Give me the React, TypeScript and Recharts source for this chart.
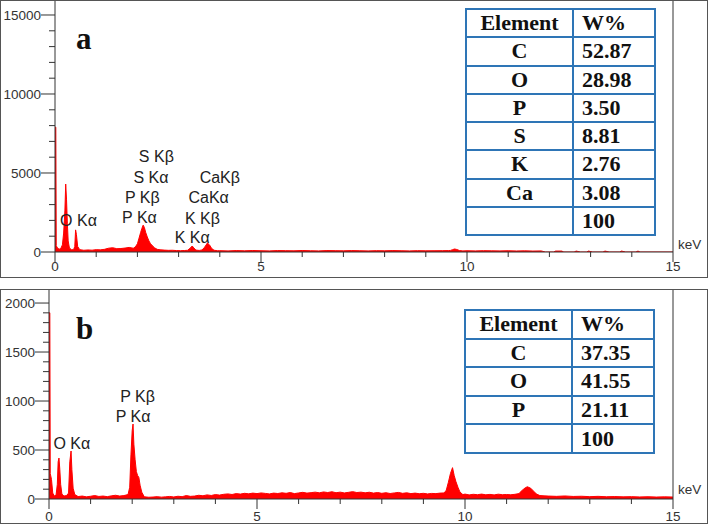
import React from 'react';
import { ComposedChart, Area, XAxis, YAxis, ReferenceLine, ReferenceDot } from 'recharts';

// energy (keV) / counts pairs
const spectrumA: [number, number][] = [
  [0, 7900], [0.02, 7900], [0.03, 400], [0.06, 250], [0.1, 180], [0.14, 220], [0.18, 450],
  [0.21, 1200], [0.24, 2600], [0.26, 4300], [0.28, 3300], [0.3, 1800], [0.32, 700], [0.35, 250],
  [0.4, 150], [0.45, 140], [0.48, 350], [0.5, 1400], [0.52, 1100], [0.55, 350], [0.6, 150],
  [0.7, 110], [0.8, 130], [0.9, 115], [1.0, 150], [1.1, 135], [1.2, 170], [1.3, 240], [1.4, 270],
  [1.5, 210], [1.6, 220], [1.7, 250], [1.8, 290], [1.9, 240], [1.95, 320], [2.0, 520], [2.04, 880],
  [2.08, 1250], [2.11, 1500], [2.14, 1700], [2.17, 1550], [2.2, 1250], [2.24, 950], [2.28, 700],
  [2.32, 520], [2.37, 380], [2.42, 260], [2.48, 170], [2.55, 140], [2.65, 120], [2.75, 105],
  [2.85, 110], [2.95, 90], [3.05, 85], [3.15, 95], [3.22, 110], [3.28, 240], [3.33, 380],
  [3.37, 260], [3.42, 120], [3.5, 100], [3.57, 130], [3.63, 300], [3.7, 570], [3.75, 450],
  [3.8, 230], [3.86, 110], [3.95, 80], [4.0, 85], [4.2, 70], [4.4, 90], [4.6, 75], [4.8, 95],
  [5.0, 80], [5.2, 70], [5.4, 90], [5.6, 85], [5.8, 75], [6.0, 95], [6.2, 80], [6.4, 70],
  [6.6, 90], [6.8, 85], [7.0, 75], [7.2, 90], [7.4, 80], [7.6, 70], [7.8, 85], [8.0, 75],
  [8.2, 90], [8.4, 80], [8.6, 70], [8.8, 85], [9.0, 75], [9.2, 80], [9.4, 85], [9.55, 90],
  [9.6, 100], [9.65, 150], [9.7, 190], [9.75, 160], [9.82, 90], [9.9, 70], [10.0, 80],
  [10.2, 70], [10.4, 85], [10.6, 75], [10.8, 70], [11.0, 80], [11.2, 65], [11.4, 75], [11.6, 60],
  [11.8, 70], [11.9, 0], [12.1, 0], [12.15, 60], [12.3, 60], [12.35, 0], [12.6, 0], [12.65, 60],
  [12.75, 0], [12.9, 0], [12.95, 60], [13.05, 0], [13.3, 0], [13.35, 60], [13.45, 0], [13.7, 0],
  [13.75, 60], [13.85, 0], [14.1, 0], [14.15, 60], [14.2, 0], [15, 0],
];

const spectrumB: [number, number][] = [
  [0, 1900], [0.02, 1900], [0.03, 260], [0.06, 200], [0.09, 60], [0.13, 30], [0.17, 40],
  [0.2, 150], [0.22, 380], [0.24, 418], [0.26, 300], [0.28, 150], [0.31, 50], [0.36, 30],
  [0.42, 35], [0.47, 60], [0.5, 380], [0.53, 490], [0.55, 300], [0.58, 110], [0.62, 45],
  [0.7, 25], [0.8, 30], [0.9, 22], [1.0, 28], [1.1, 35], [1.2, 26], [1.3, 30], [1.4, 24],
  [1.5, 32], [1.6, 38], [1.7, 30], [1.8, 35], [1.9, 45], [1.94, 120], [1.97, 450], [2.0, 700],
  [2.02, 765], [2.04, 560], [2.07, 400], [2.1, 280], [2.13, 240], [2.16, 220], [2.19, 140],
  [2.23, 70], [2.28, 30], [2.3, 22], [2.4, 18], [2.5, 20], [2.6, 24], [2.7, 19], [2.8, 22],
  [2.9, 26], [3.0, 21], [3.1, 28], [3.2, 24], [3.3, 35], [3.4, 27], [3.5, 30], [3.6, 38],
  [3.7, 33], [3.8, 42], [3.9, 36], [4.0, 45], [4.1, 40], [4.2, 48], [4.3, 52], [4.4, 46],
  [4.5, 55], [4.6, 50], [4.7, 58], [4.8, 53], [4.9, 60], [5.0, 55], [5.1, 62], [5.2, 57],
  [5.3, 52], [5.4, 60], [5.5, 56], [5.6, 63], [5.7, 58], [5.8, 66], [5.9, 55], [6.0, 62],
  [6.1, 68], [6.2, 60], [6.3, 65], [6.4, 70], [6.5, 63], [6.6, 72], [6.7, 66], [6.8, 74],
  [6.9, 64], [7.0, 70], [7.1, 62], [7.2, 68], [7.3, 75], [7.4, 66], [7.5, 70], [7.6, 63],
  [7.7, 69], [7.8, 60], [7.9, 66], [8.0, 58], [8.1, 64], [8.2, 56], [8.3, 62], [8.4, 67],
  [8.5, 58], [8.6, 63], [8.7, 55], [8.8, 60], [8.9, 54], [9.0, 58], [9.1, 52], [9.2, 57],
  [9.3, 55], [9.4, 60], [9.5, 62], [9.55, 90], [9.6, 170], [9.65, 260], [9.7, 320], [9.74, 240],
  [9.78, 180], [9.83, 120], [9.88, 70], [9.95, 45], [10.0, 50], [10.1, 42], [10.2, 48],
  [10.3, 44], [10.4, 50], [10.5, 43], [10.6, 47], [10.7, 42], [10.8, 49], [10.9, 44], [11.0, 46],
  [11.1, 43], [11.2, 48], [11.3, 55], [11.35, 80], [11.45, 115], [11.5, 125], [11.58, 110],
  [11.65, 80], [11.72, 50], [11.8, 35], [11.9, 32], [12.0, 30], [12.2, 27], [12.4, 31],
  [12.6, 26], [12.8, 28], [13.0, 24], [13.2, 27], [13.4, 23], [13.6, 25], [13.8, 22], [14.0, 24],
  [14.2, 21], [14.4, 23], [14.6, 20], [14.8, 22], [15.0, 20],
];

const keVTicks = [0, 1, 2, 3, 4, 5, 6, 7, 8, 9, 10, 11, 12, 13, 14, 15];
const keVMajor = [0, 5, 10, 15];

const countTicksA = [0, 1000, 2000, 3000, 4000, 5000, 6000, 7000, 8000, 9000, 10000, 11000, 12000, 13000, 14000, 15000];
const countMajorA = [0, 5000, 10000, 15000];
const countTicksB = [0, 100, 200, 300, 400, 500, 600, 700, 800, 900, 1000, 1100, 1200, 1300, 1400, 1500, 1600, 1700, 1800, 1900, 2000];
const countMajorB = [0, 500, 1000, 1500, 2000];

// peak annotations, placed in keV / counts
const peakLabelsA = [
  { text: 'O K\u03b1', keV: 0.57, counts: 2025 },
  { text: 'P K\u03b1', keV: 2.05, counts: 2215 },
  { text: 'P K\u03b2', keV: 2.12, counts: 3481 },
  { text: 'S K\u03b1', keV: 2.33, counts: 4747 },
  { text: 'S K\u03b2', keV: 2.46, counts: 6076 },
  { text: 'CaK\u03b2', keV: 4.0, counts: 4747 },
  { text: 'CaK\u03b1', keV: 3.73, counts: 3481 },
  { text: 'K K\u03b2', keV: 3.58, counts: 2152 },
  { text: 'K K\u03b1', keV: 3.33, counts: 949 },
];
const peakLabelsB = [
  { text: 'O K\u03b1', keV: 0.55, counts: 571 },
  { text: 'P K\u03b1', keV: 2.02, counts: 847 },
  { text: 'P K\u03b2', keV: 2.13, counts: 1051 },
];

const elementsA = ['C', 'O', 'P', 'S', 'K', 'Ca', ''];
const weightsA = ['52.87', '28.98', '3.50', '8.81', '2.76', '3.08', '100'];
const elementsB = ['C', 'O', 'P', ''];
const weightsB = ['37.35', '41.55', '21.11', '100'];

const SANS = 'Arial, "Liberation Sans", sans-serif';
const SERIF = '"Liberation Serif", "Times New Roman", serif';
const AXIS = '#333';

const YTick = (props: any) => {
  const { x, y, payload, majors } = props;
  const major = majors.includes(payload.value);
  return (
    <g>
      <line x1={x - (major ? 14 : 6)} x2={x} y1={y} y2={y} stroke={AXIS} />
      {major && (
        <text x={x - 14} y={y} dy="0.35em" textAnchor="end" fontSize={13.5} fontFamily={SANS} fill={AXIS}>
          {payload.value}
        </text>
      )}
    </g>
  );
};

const XTick = (props: any) => {
  const { x, y, payload, labelDy } = props;
  const major = keVMajor.includes(payload.value);
  return (
    <g>
      <line x1={x} x2={x} y1={y} y2={y + (major ? 10 : 5)} stroke={AXIS} />
      {major && (
        <text x={x} y={y + labelDy} dy="0.35em" textAnchor="middle" fontSize={13.5} fontFamily={SANS} fill={AXIS}>
          {payload.value}
        </text>
      )}
    </g>
  );
};

const peakText = (text: string) => (p: any) => (
  <text x={p.cx} y={p.cy} dy="0.35em" textAnchor="middle" fontSize={16} fontFamily={SANS} fill="#222">
    {text}
  </text>
);

const WeightTable = ({ elements, weights, left, top, rowH }: any) => {
  const cell: React.CSSProperties = {
    border: '2.5px solid #2e75b6',
    padding: 0,
    lineHeight: 1,
  };
  const rows = [['Element', 'W%'], ...elements.map((e: string, i: number) => [e, weights[i]])];
  return (
    <table
      style={{
        position: 'absolute',
        left,
        top,
        borderCollapse: 'collapse',
        fontFamily: SERIF,
        fontWeight: 700,
        fontSize: 22,
        color: '#111',
        background: '#fff',
      }}
    >
      <tbody>
        {rows.map((r, i) => (
          <tr key={i} style={{ height: rowH }}>
            <td style={{ ...cell, width: 105, textAlign: 'center' }}>{r[0]}</td>
            <td style={{ ...cell, width: 82, paddingLeft: 8, boxSizing: 'border-box' }}>{r[1]}</td>
          </tr>
        ))}
      </tbody>
    </table>
  );
};

const Panel = ({ data, top, height, xHeight, yWidth, yMax, ticks, majors, labels, letter, letterTop, labelDy, keVTop }: any) => {
  const rows = data.map(([e, c]: [number, number]) => ({ e, c }));
  return (
    <div
      style={{
        position: 'absolute',
        left: 0,
        top,
        width: 708,
        height,
        border: '1px solid #555',
        boxSizing: 'border-box',
        background: '#fff',
      }}
    >
      <ComposedChart
        width={706}
        height={height - 2}
        data={rows}
        margin={{ top: 0, right: 34, bottom: 0, left: 0 }}
      >
        <XAxis
          dataKey="e"
          type="number"
          domain={[0, 15]}
          ticks={keVTicks}
          interval={0}
          height={xHeight}
          tickSize={0}
          tickMargin={0}
          tickLine={false}
          axisLine={{ stroke: AXIS }}
          tick={<XTick labelDy={labelDy} />}
        />
        <YAxis
          type="number"
          domain={[0, yMax]}
          ticks={ticks}
          interval={0}
          width={yWidth}
          allowDataOverflow
          tickSize={0}
          tickMargin={0}
          tickLine={false}
          axisLine={{ stroke: AXIS }}
          tick={<YTick majors={majors} />}
        />
        <Area
          dataKey="c"
          type="linear"
          stroke="#ff0000"
          strokeWidth={1}
          fill="#ff0000"
          fillOpacity={1}
          dot={false}
          activeDot={false}
          isAnimationActive={false}
        />
        <ReferenceLine x={15} stroke={AXIS} />
        {labels.map((l: any) => (
          <ReferenceDot key={l.text} x={l.keV} y={l.counts} r={0} shape={peakText(l.text)} />
        ))}
      </ComposedChart>
      <div
        style={{
          position: 'absolute',
          left: 75,
          top: letterTop,
          fontFamily: SERIF,
          fontWeight: 700,
          fontSize: 31,
          lineHeight: 1,
          color: '#111',
        }}
      >
        {letter}
      </div>
      <div
        style={{
          position: 'absolute',
          left: 677,
          top: keVTop,
          fontFamily: SANS,
          fontSize: 13.5,
          lineHeight: 1,
          color: AXIS,
        }}
      >
        keV
      </div>
    </div>
  );
};

export default function App() {
  return (
    <div style={{ position: 'absolute', left: 0, top: 0, width: 709, height: 525, background: '#fff' }}>
      <Panel
        data={spectrumA}
        top={0}
        height={278}
        xHeight={25}
        yWidth={54}
        yMax={15886}
        ticks={countTicksA}
        majors={countMajorA}
        labels={peakLabelsA}
        letter="a"
        letterTop={22}
        labelDy={14}
        keVTop={237}
      />
      <Panel
        data={spectrumB}
        top={289}
        height={235}
        xHeight={24}
        yWidth={48}
        yMax={2133}
        ticks={countTicksB}
        majors={countMajorB}
        labels={peakLabelsB}
        letter="b"
        letterTop={23}
        labelDy={17}
        keVTop={193}
      />
      <WeightTable elements={elementsA} weights={weightsA} left={465} top={8} rowH={28.25} />
      <WeightTable elements={elementsB} weights={weightsB} left={464} top={309} rowH={28.6} />
    </div>
  );
}
